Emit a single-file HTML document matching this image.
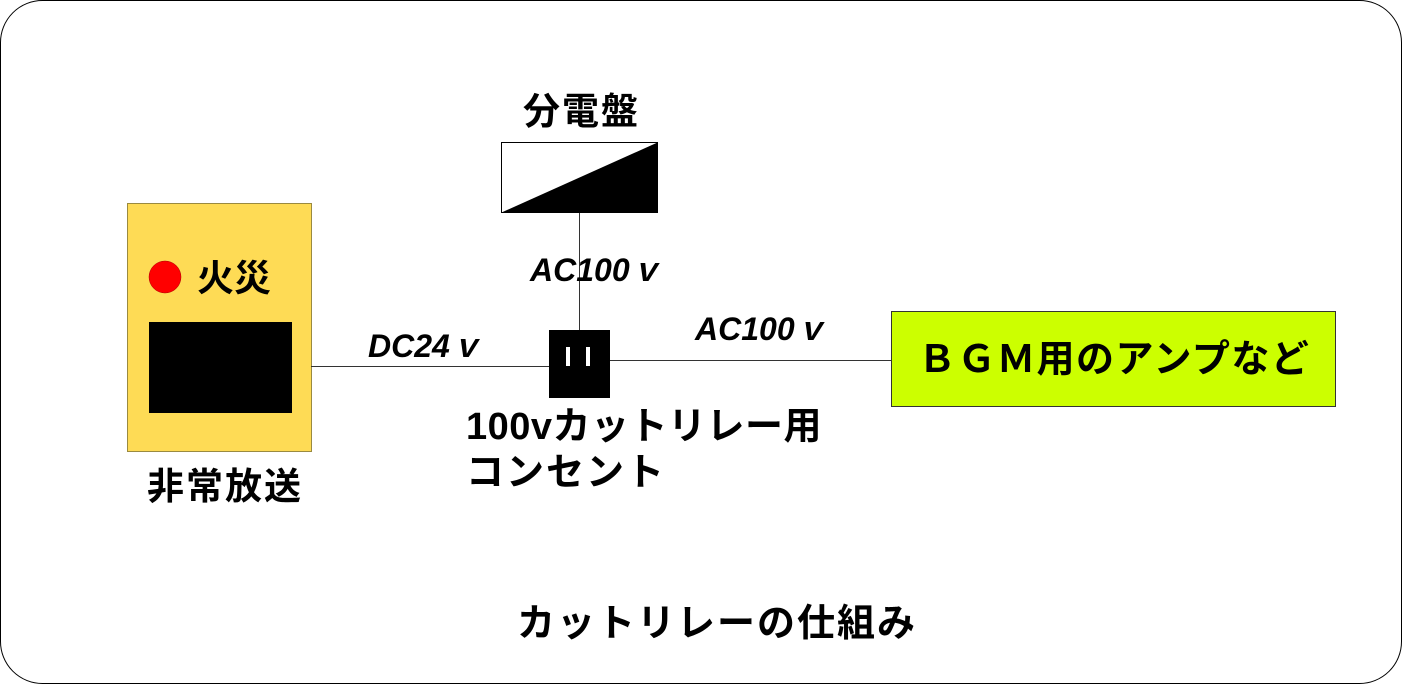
<!DOCTYPE html>
<html><head><meta charset="utf-8"><style>
body{margin:0;width:1403px;height:685px;background:#fff;position:relative;overflow:hidden;font-family:"Liberation Sans","Noto Sans CJK JP",sans-serif;font-weight:bold;}
.t{position:absolute;white-space:nowrap;color:#000;line-height:1;}
.i{font-style:italic;}
</style></head><body>
<svg width="1403" height="685" style="position:absolute;left:0;top:0">
<rect x="0.5" y="0.5" width="1401" height="683" rx="42" fill="#fff" stroke="#000" stroke-width="1"/>
<rect x="127.5" y="203.5" width="184" height="248" fill="#fedb55" stroke="#9a8a40"/>
<circle cx="165" cy="277" r="16" fill="#f00" stroke="#a00" stroke-width="0.5"/>
<rect x="149" y="322" width="143" height="91" fill="#000"/>
<line x1="311" y1="366.5" x2="549" y2="366.5" stroke="#333"/>
<line x1="610" y1="360.5" x2="891" y2="360.5" stroke="#333"/>
<line x1="579.5" y1="212" x2="579.5" y2="330" stroke="#333"/>
<rect x="501.5" y="142.5" width="156" height="70" fill="#fff" stroke="#000"/>
<polygon points="501.5,212.5 657.5,142.5 657.5,212.5" fill="#000"/>
<rect x="549" y="330" width="61" height="68" fill="#000"/>
<rect x="566" y="347" width="4" height="19" fill="#fff"/>
<rect x="586" y="347" width="4" height="19" fill="#fff"/>
<rect x="891.5" y="311.5" width="444" height="95" fill="#ccff00" stroke="#333"/>
</svg>
<div class="t" style="left:197px;top:260px;font-size:37px">火災</div>
<div class="t" style="left:147px;top:468px;font-size:37px;letter-spacing:2px">非常放送</div>
<div class="t" style="left:523px;top:93px;font-size:37px;letter-spacing:2px">分電盤</div>
<div class="t i" style="left:530px;top:254px;font-size:32px">AC100ｖ</div>
<div class="t i" style="left:368px;top:330px;font-size:32px">DC24ｖ</div>
<div class="t i" style="left:695px;top:313px;font-size:32px">AC100ｖ</div>
<div class="t" style="left:918px;top:341px;font-size:38px;letter-spacing:1.5px">ＢＧＭ用のアンプなど</div>
<div class="t" style="left:466px;top:408px;font-size:38px;letter-spacing:0.5px">100vカットリレー用</div>
<div class="t" style="left:466px;top:454px;font-size:38px;letter-spacing:2px">コンセント</div>
<div class="t" style="left:517px;top:605px;font-size:38px;letter-spacing:2px">カットリレーの仕組み</div>
</body></html>
